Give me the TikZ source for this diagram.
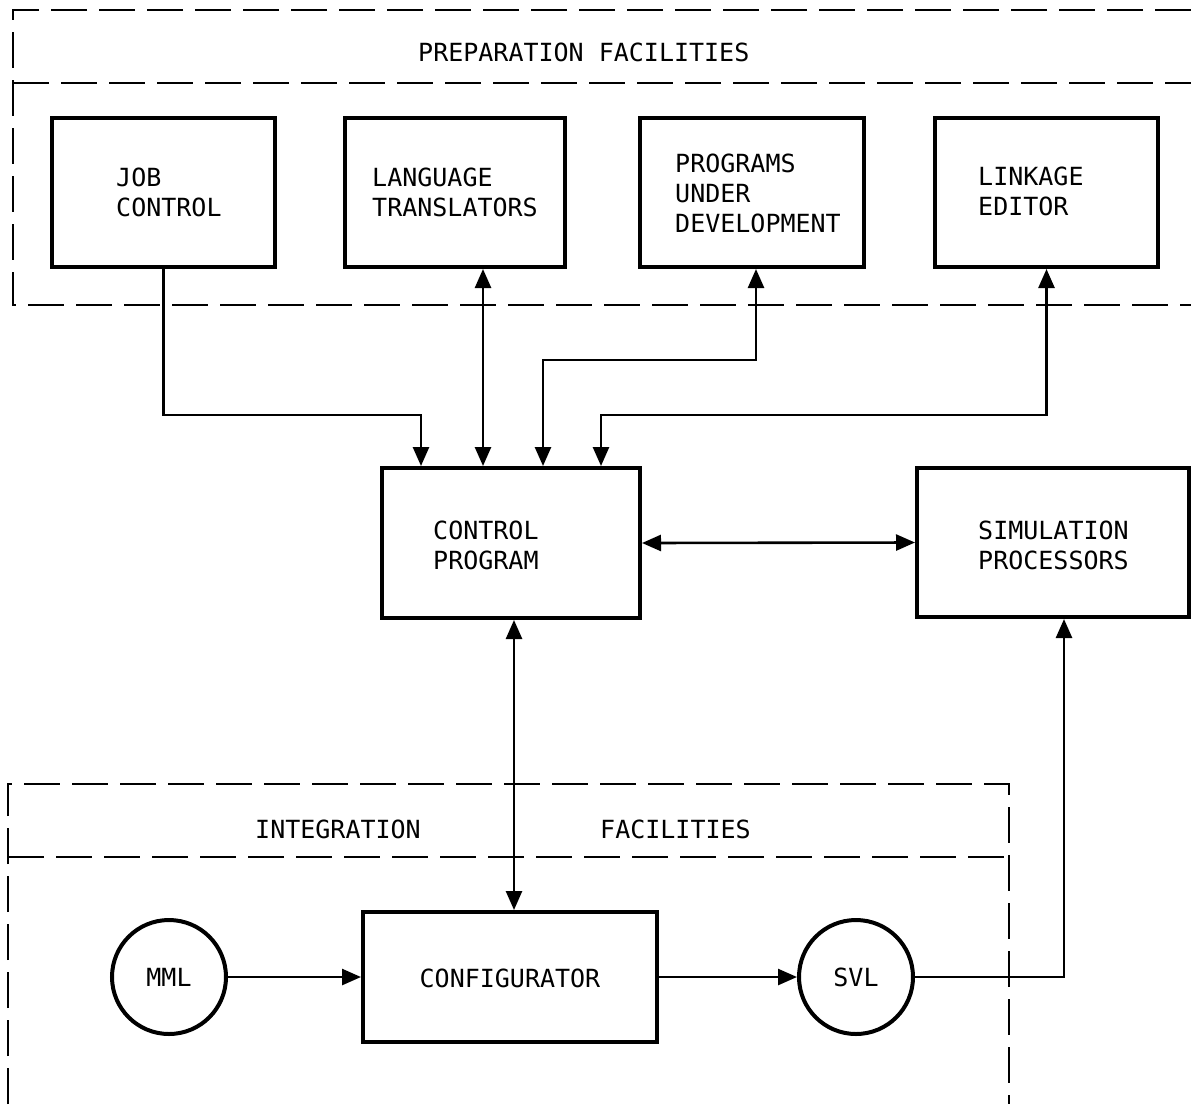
\documentclass[tikz,border=0pt]{standalone}
\usepackage{fontspec}
\setmonofont{DejaVu Sans Mono}
\usetikzlibrary{arrows.meta,shapes.geometric}

\begin{document}
\begin{tikzpicture}[x=1pt,y=-1pt,
  box/.style={draw, line width=4pt, rectangle, inner sep=0pt},
  ring/.style={draw, line width=4pt, circle, inner sep=0pt, minimum size=114pt,
               font=\ttfamily\fontsize{25}{30}\selectfont},
  lbl/.style={font=\ttfamily\fontsize{25}{30}\selectfont, align=left, anchor=west, inner sep=0pt},
  conn/.style={line width=2.6pt},
  tip/.style={conn, -{Triangle[length=19pt,width=16pt]}},
  dbl/.style={conn, {Triangle[length=19pt,width=16pt]}-{Triangle[length=19pt,width=16pt]}},
  frame/.style={line width=2pt, dash pattern=on 36pt off 12pt},
]
\useasboundingbox (0,0) rectangle (1191,1104);

% preparation facilities frame (open on the right)
\draw[frame] (1191,10) -- (13,10) -- (13,305) -- (1191,305);
\draw[frame] (13,83) -- (1191,83);
\node[lbl] (prept) at (418,52) {PREPARATION FACILITIES};

% integration facilities frame (open at the bottom)
\draw[frame] (8,1104) -- (8,784) -- (1009,784) -- (1009,1104);
\draw[frame] (8,857) -- (1009,857);
\node[lbl] (integt) at (255,829) {INTEGRATION};
\node[lbl] (facilt) at (600,829) {FACILITIES};

% preparation boxes
\node[box, minimum width=223, minimum height=149] (job)  at (163.5,192.5) {};
\node[box, minimum width=220, minimum height=149] (lang) at (455,192.5) {};
\node[box, minimum width=224, minimum height=149] (prog) at (752,192.5) {};
\node[box, minimum width=223, minimum height=149] (link) at (1046.5,192.5) {};
\node[lbl] (jobt)  at (116,192) {JOB\\CONTROL};
\node[lbl] (langt) at (372,192) {LANGUAGE\\TRANSLATORS};
\node[lbl] (progt) at (675,193) {PROGRAMS\\UNDER\\DEVELOPMENT};
\node[lbl] (linkt) at (978,191) {LINKAGE\\EDITOR};

% central boxes
\node[box, minimum width=258, minimum height=150] (ctrl) at (511,543) {};
\node[box, minimum width=272, minimum height=149] (sim)  at (1053,542.5) {};
\node[lbl] (ctrlt) at (433,545) {CONTROL\\PROGRAM};
\node[lbl] (simt)  at (978,545) {SIMULATION\\PROCESSORS};

% integration elements
\node[box, minimum width=294, minimum height=130] (conf) at (510,977) {};
\node[lbl, anchor=center] (conft) at (510,978) {CONFIGURATOR};
\node[ring] (mml) at (169,977) {MML};
\node[ring] (svl) at (856,977) {SVL};

% routing points
\coordinate (j1) at (421,415);
\coordinate (l1) at (483,0);
\coordinate (p1) at (756,360);
\coordinate (p2) at (543,360);
\coordinate (k1) at (601,415);
\coordinate (c1) at (514,0);
\coordinate (s1) at (1064,0);

% connectors
\draw[tip] (job.south) |- (j1) -- (j1 |- ctrl.north);
\draw[dbl] (lang.south -| l1) -- (ctrl.north -| l1);
\draw[dbl] (prog.south -| p1) -- (p1) -- (p2) -- (p2 |- ctrl.north);
\draw[dbl] (link.south) |- (k1) -- (k1 |- ctrl.north);
\draw[dbl] (ctrl.east) -- (sim.west);
\draw[dbl] (ctrl.south -| c1) -- (conf.north -| c1);
\draw[tip] (mml.east) -- (conf.west);
\draw[tip] (conf.east) -- (svl.west);
\draw[tip] (svl.east) -| (sim.south -| s1);
\end{tikzpicture}
\end{document}
